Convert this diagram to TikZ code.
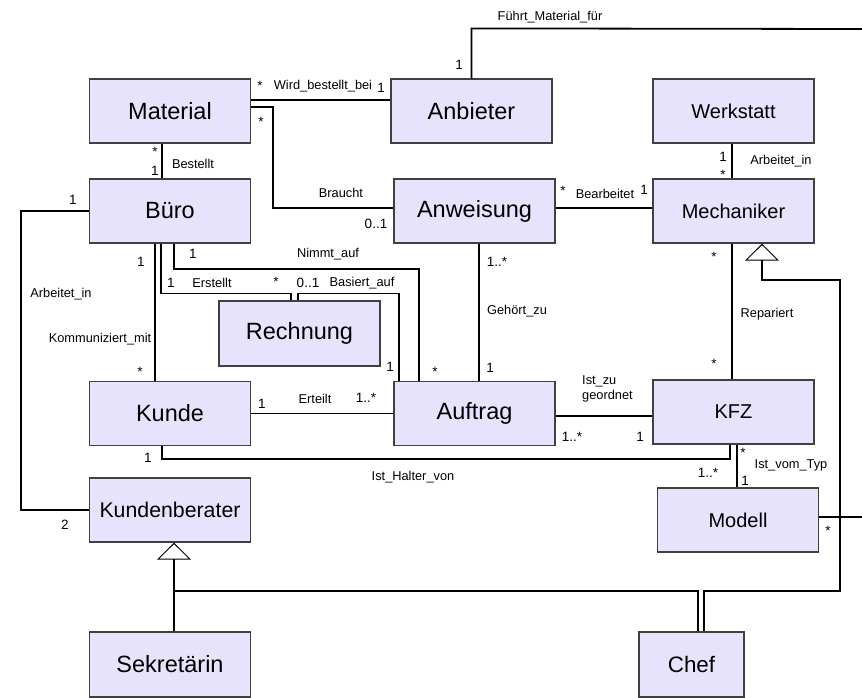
\documentclass[tikz,border=0pt]{standalone}
\usepackage{fontspec}
\setmainfont{Liberation Sans}
\usetikzlibrary{arrows.meta}
\definecolor{klassefill}{RGB}{232,227,252}

\begin{document}
\begin{tikzpicture}[
  x=1pt, y=-1pt,
  klasse/.style={
    rectangle,
    draw=black!75,
    line width=1.2pt,
    fill=klassefill,
    minimum width=161pt,
    minimum height=64pt,
    inner sep=0pt,
    font=\fontsize{23.5}{28}\selectfont
  },
  klein/.style={font=\fontsize{20}{24}\selectfont},
  assoc/.style={line width=1.8pt},
  inherit/.style={assoc, -{Triangle[open, length=17pt, width=34pt, line width=1pt]}},
  mult/.style={font=\fontsize{13.5}{16}\selectfont, inner sep=0pt},
  lbl/.style={font=\fontsize{12.8}{15}\selectfont, inner sep=0pt}
]
\useasboundingbox (0,0) rectangle (862,697);

% --- KLASSEN -------------------------------------------------------
\node[klasse] (material) at (170,111) {Material};
\node[klasse] (anbieter) at (471.5,111) {Anbieter};
\node[klasse, klein] (werkstatt) at (733.5,111) {Werkstatt};
\node[klasse] (buero) at (170,211) {Büro};
\node[klasse] (anweisung) at (474.5,211) {Anweisung};
\node[klasse, klein] (mechaniker) at (733.5,211) {Mechaniker};
\node[klasse, minimum height=65pt] (rechnung) at (299.5,333.5) {Rechnung};
\node[klasse] (kunde) at (170,413.5) {Kunde};
\node[klasse] (auftrag) at (474.5,413.5) {Auftrag};
\node[klasse, klein] (kfz) at (733.5,412) {KFZ};
\node[klasse, klein] (modell) at (738,520) {Modell};
\node[klasse, font=\fontsize{21.3}{25}\selectfont] (kundenberater) at (170,510) {Kundenberater};
\node[klasse, minimum height=65pt] (sekretaerin) at (170,664.5) {Sekretärin};
\node[klasse, minimum width=105pt, minimum height=65pt, font=\fontsize{22.4}{27}\selectfont] (chef) at (691.5,664.5) {Chef};

% --- HILFSPUNKTE ---------------------------------------------------
\coordinate (fuehrtR) at (862,29);
\coordinate (modellR) at (862,517);
\coordinate (brauchtK) at (273,208);
\coordinate (chefR) at (840,591);
\coordinate (mechG) at (762,280);
\coordinate (genL) at (174,591);

% --- ASSOZIATIONEN -------------------------------------------------
\draw[assoc] ([yshift=11pt]material.east) -- ([yshift=11pt]anbieter.west);
\draw[assoc] ([yshift=4pt]material.east) -| (brauchtK) -- (brauchtK -| anweisung.west);
\draw[assoc] ([xshift=-8pt]material.south) -- ([xshift=-8pt]buero.north);
\draw[assoc] (anbieter.north) -- ++(0,-50) -- (fuehrtR);
\draw[assoc] (buero.west) -- ++(-68,0) |- (kundenberater.west);
\draw[assoc] ([xshift=-15pt]buero.south) -- ([xshift=-15pt]kunde.north);
\draw[assoc] ([xshift=-9pt]buero.south) |- ([xshift=-8.5pt,yshift=7pt]rechnung.north) -- ([xshift=-8.5pt]rechnung.north);
\draw[assoc] ([xshift=-1.5pt]rechnung.north) -- ++(0,-7) -| ([xshift=-75.5pt]auftrag.north);
\draw[assoc] ([xshift=4pt]buero.south) -- ++(0,25) -| ([xshift=-55.5pt]auftrag.north);
\draw[assoc] ([xshift=4.5pt]anweisung.south) -- ([xshift=4.5pt]auftrag.north);
\draw[assoc] ([yshift=3pt]anweisung.east) -- ([yshift=3pt]mechaniker.west);
\draw[assoc] ([xshift=-1.5pt]werkstatt.south) -- ([xshift=-1.5pt]mechaniker.north);
\draw[assoc] ([xshift=-1.5pt]mechaniker.south) -- ([xshift=-1.5pt]kfz.north);
\draw[assoc] (kunde.east) -- (auftrag.west);
\draw[assoc] ([yshift=-2.5pt]auftrag.east) -- ([yshift=-4pt]kfz.west);
\draw[assoc] ([xshift=-8pt]kunde.south) -- ++(0,13) -| ([xshift=-3.5pt]kfz.south);
\draw[assoc] ([xshift=3.5pt]kfz.south) -- ([xshift=-1pt]modell.north);
\draw[assoc] ([yshift=3pt]modell.east) -- (modellR);

% --- VERERBUNG -----------------------------------------------------
\draw[inherit] ([xshift=4pt]sekretaerin.north) -- ([xshift=4pt]kundenberater.south);
\draw[assoc] ([xshift=6.5pt]chef.north) |- (genL);
\draw[inherit] ([xshift=12.5pt]chef.north) |- (chefR) |- (mechG) -- (mechG |- mechaniker.south);

% --- BESCHRIFTUNGEN ------------------------------------------------
\node[mult] (m1) at (260,86) {*};
\node[lbl] (t1) at (323,86) {Wird\_bestellt\_bei};
\node[mult] (m2) at (381,88) {1};
\node[mult] (m3) at (261,122) {*};
\node[lbl] (t2) at (341,193) {Braucht};
\node[mult] (m4) at (376,224) {0..1};
\node[mult] (m5) at (155,152) {*};
\node[mult] (m6) at (155,171) {1};
\node[lbl] (t3) at (193,164) {Bestellt};
\node[lbl] (t4) at (550,17) {Führt\_Material\_für};
\node[mult] (m7) at (459,65) {1};
\node[mult] (m8) at (73,200) {1};
\node[lbl] (t5) at (61,294) {Arbeitet\_in};
\node[mult] (m9) at (65,525) {2};
\node[mult] (m10) at (141,262) {1};
\node[lbl] (t6) at (100,339) {Kommuniziert\_mit};
\node[mult] (m11) at (140,372) {*};
\node[mult] (m12) at (171,283) {1};
\node[lbl] (t7) at (212,283) {Erstellt};
\node[mult] (m13) at (276,282) {*};
\node[mult] (m14) at (308,283) {0..1};
\node[lbl] (t8) at (362,283) {Basiert\_auf};
\node[mult] (m15) at (390,367) {1};
\node[mult] (m16) at (193,254) {1};
\node[lbl] (t9) at (328,254) {Nimmt\_auf};
\node[mult] (m17) at (435,372) {*};
\node[mult] (m18) at (497,262) {1..*};
\node[lbl] (t10) at (517,311) {Gehört\_zu};
\node[mult] (m19) at (490,368) {1};
\node[mult] (m20) at (563,191) {*};
\node[lbl] (t11) at (605,194) {Bearbeitet};
\node[mult] (m21) at (644,190) {1};
\node[mult] (m22) at (723,157) {1};
\node[mult] (m23) at (723,175) {*};
\node[lbl] (t12) at (781,161) {Arbeitet\_in};
\node[mult] (m24) at (714,257) {*};
\node[lbl] (t13) at (767,314) {Repariert};
\node[mult] (m25) at (714,364) {*};
\node[mult] (m26) at (262,404) {1};
\node[lbl] (t14) at (315,399) {Erteilt};
\node[mult] (m27) at (366,398) {1..*};
\node[lbl, align=left, anchor=west] (t15) at (582,389) {Ist\_zu\\geordnet};
\node[mult] (m28) at (572,437) {1..*};
\node[mult] (m29) at (640,437) {1};
\node[mult] (m30) at (148,458) {1};
\node[lbl] (t16) at (413,477) {Ist\_Halter\_von};
\node[mult] (m31) at (708,473) {1..*};
\node[mult] (m32) at (743,453) {*};
\node[lbl] (t17) at (791,465) {Ist\_vom\_Typ};
\node[mult] (m33) at (745,481) {1};
\node[mult] (m34) at (828,531) {*};

\end{tikzpicture}
\end{document}
